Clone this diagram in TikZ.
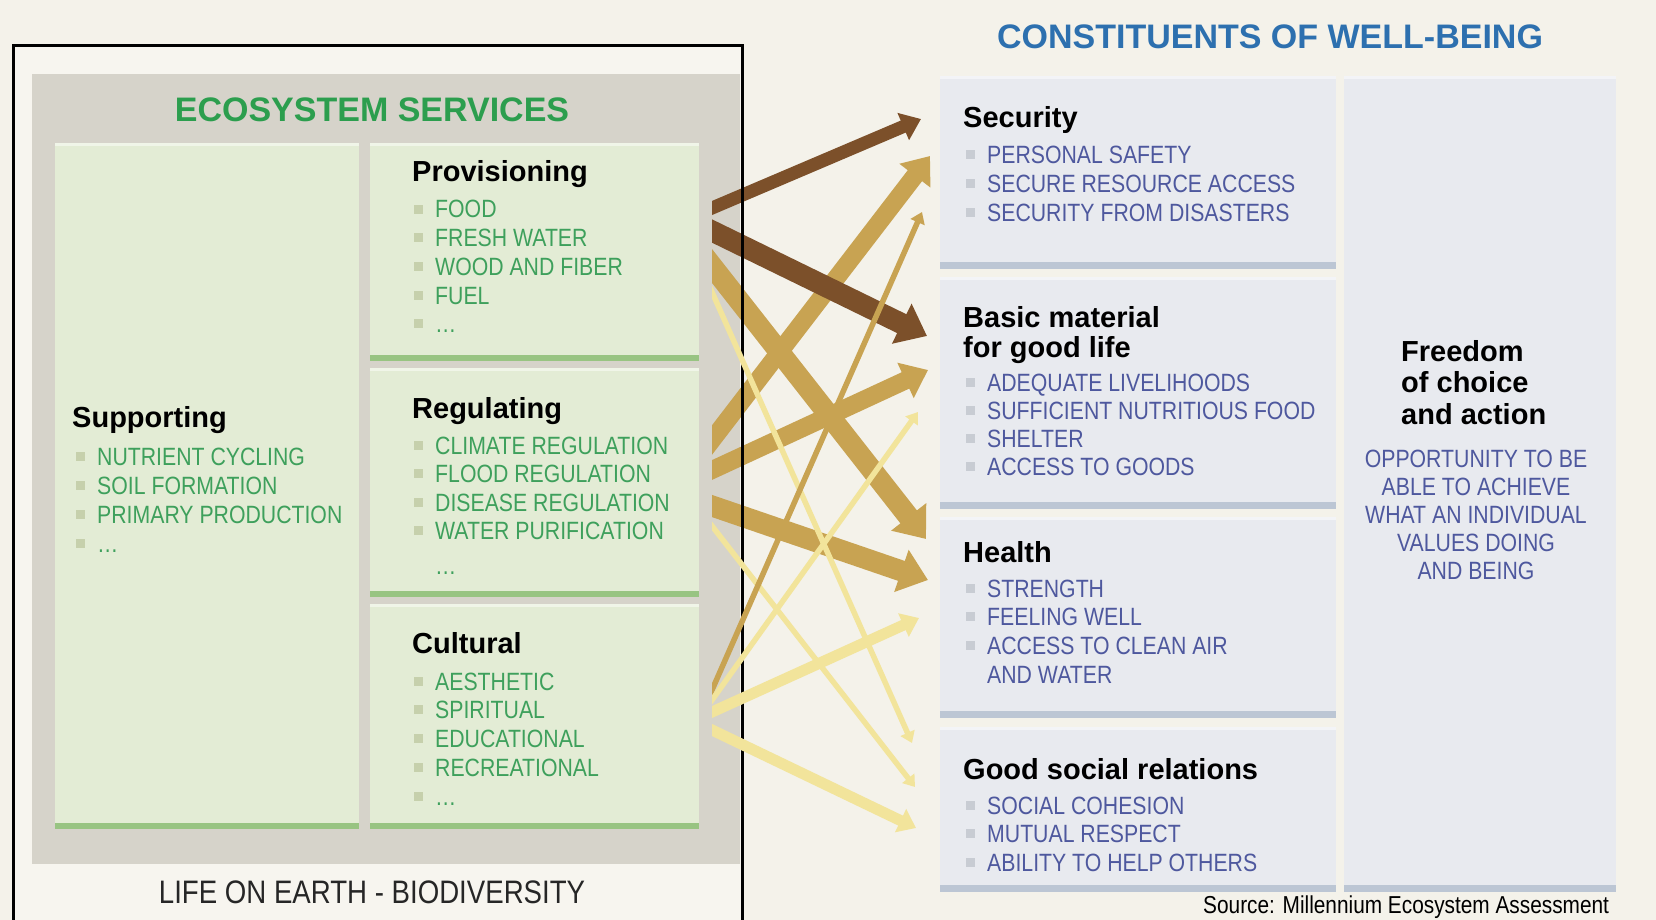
\documentclass[tikz,border=0pt]{standalone}
\usepackage{fontspec}
\setmainfont{Liberation Sans}
\newfontfamily\narrowfont{Liberation Sans}[FakeStretch=0.85]
\usetikzlibrary{arrows.meta, positioning}

\definecolor{paper}{RGB}{244,242,234}
\definecolor{paperlight}{RGB}{247,245,239}
\definecolor{panel}{RGB}{214,211,202}
\definecolor{svcfill}{RGB}{227,236,213}
\definecolor{svcedge}{RGB}{152,196,130}
\definecolor{svctop}{RGB}{240,245,232}
\definecolor{wbfill}{RGB}{232,234,239}
\definecolor{wbedge}{RGB}{188,198,212}
\definecolor{wbtop}{RGB}{243,244,247}
\definecolor{svcgreen}{RGB}{44,158,78}
\definecolor{itemgreen}{RGB}{62,160,92}
\definecolor{wbblue}{RGB}{45,112,175}
\definecolor{itemblue}{RGB}{78,88,158}
\definecolor{bulgreen}{RGB}{198,208,172}
\definecolor{bulgrey}{RGB}{200,204,211}
\definecolor{linkdark}{RGB}{124,80,42}
\definecolor{linktan}{RGB}{200,163,82}
\definecolor{linklight}{RGB}{242,228,155}

\newcommand\sqbul[1]{\textcolor{#1}{\rule[4.5pt]{9pt}{9pt}}\hspace{12pt}}

\begin{document}
\begin{tikzpicture}[x=1pt, y=-1pt,
  svcbox/.style={rectangle, anchor=north west, inner sep=0pt, fill=svcfill,
    path picture={
      \fill[svcedge] ([yshift=6pt]path picture bounding box.south west) rectangle (path picture bounding box.south east);
      \fill[svctop] (path picture bounding box.north west) rectangle ([yshift=-3pt]path picture bounding box.north east);}},
  wbbox/.style={rectangle, anchor=north west, inner sep=0pt, fill=wbfill,
    path picture={
      \fill[wbedge] ([yshift=7pt]path picture bounding box.south west) rectangle (path picture bounding box.south east);
      \fill[wbtop] (path picture bounding box.north west) rectangle ([yshift=-3pt]path picture bounding box.north east);}},
  sectitle/.style={inner sep=0pt, font=\bfseries\fontsize{34}{40}\selectfont},
  boxhead/.style={anchor=west, inner sep=0pt, font=\bfseries\fontsize{29}{34}\selectfont, text height=20.8pt, text depth=0pt},
  svcitem/.style={anchor=west, inner sep=0pt, font=\narrowfont\fontsize{25}{28}\selectfont, text height=18pt, text depth=0pt, text=itemgreen},
  wbitem/.style={svcitem, text=itemblue},
  link/.style={line width=#1, shorten <=-16pt, -{Triangle[length=5pt 1.1, width=5pt 1.8]}}
]
\clip (0,0) rectangle (1656,920);
\fill[paper] (0,0) rectangle (1656,920);

% ecosystem services
\fill[paperlight] (13,46) rectangle (742,935);
\fill[panel] (32,74) rectangle (740,864);
\node[sectitle, text=svcgreen] (es) at (372,110) {ECOSYSTEM SERVICES};

\node[svcbox, minimum width=304pt, minimum height=686pt] (supp) at (55,143) {};
\node[svcbox, minimum width=329pt, minimum height=218pt] (prov) at (370,143) {};
\node[svcbox, minimum width=329pt, minimum height=229pt] (regu) at (370,368) {};
\node[svcbox, minimum width=329pt, minimum height=225pt] (cult) at (370,604) {};

\node[boxhead] (supp-head) at (72,417) {Supporting};
\foreach \t [count=\i from 0] in {NUTRIENT CYCLING, SOIL FORMATION, PRIMARY PRODUCTION, \dots}
  \node[svcitem] (supp-\i) at (76,456+29.2*\i) {\sqbul{bulgreen}\t};

\node[boxhead] (prov-head) at (412,171) {Provisioning};
\foreach \t [count=\i from 0] in {FOOD, FRESH WATER, WOOD AND FIBER, FUEL, \dots}
  \node[svcitem] (prov-\i) at (414,209+28.7*\i) {\sqbul{bulgreen}\t};

\node[boxhead] (regu-head) at (412,408) {Regulating};
\foreach \t [count=\i from 0] in {CLIMATE REGULATION, FLOOD REGULATION, DISEASE REGULATION, WATER PURIFICATION}
  \node[svcitem] (regu-\i) at (414,445+28.5*\i) {\sqbul{bulgreen}\t};
\node[svcitem] (regu-more) at (435,565) {\dots};

\node[boxhead] (cult-head) at (412,643) {Cultural};
\foreach \t [count=\i from 0] in {AESTHETIC, SPIRITUAL, EDUCATIONAL, RECREATIONAL, \dots}
  \node[svcitem] (cult-\i) at (414,681+28.8*\i) {\sqbul{bulgreen}\t};

\node[font=\narrowfont\fontsize{32.5}{36}\selectfont, text={black!85}, inner sep=0pt] (life) at (372,892) {LIFE ON EARTH - BIODIVERSITY};

% constituents of well-being
\node[sectitle, text=wbblue] (wb) at (1270,37) {CONSTITUENTS OF WELL-BEING};

\node[wbbox, minimum width=396pt, minimum height=193pt] (sec) at (940,76) {};
\node[wbbox, minimum width=396pt, minimum height=232pt] (basic) at (940,277) {};
\node[wbbox, minimum width=396pt, minimum height=201pt] (health) at (940,517) {};
\node[wbbox, minimum width=396pt, minimum height=165pt] (social) at (940,727) {};
\node[wbbox, minimum width=272pt, minimum height=816pt] (free) at (1344,76) {};

\node[boxhead] (sec-head) at (963,117) {Security};
\foreach \t [count=\i from 0] in {PERSONAL SAFETY, SECURE RESOURCE ACCESS, SECURITY FROM DISASTERS}
  \node[wbitem] (sec-\i) at (966,155+28.5*\i) {\sqbul{bulgrey}\t};

\node[boxhead] (basic-head) at (963,317) {Basic material};
\node[boxhead, below=9.2pt of basic-head.south west, anchor=north west] (basic-head2) {for good life};
\foreach \t [count=\i from 0] in {ADEQUATE LIVELIHOODS, SUFFICIENT NUTRITIOUS FOOD, SHELTER, ACCESS TO GOODS}
  \node[wbitem] (basic-\i) at (966,382+28*\i) {\sqbul{bulgrey}\t};

\node[boxhead] (health-head) at (963,552) {Health};
\foreach \t [count=\i from 0] in {STRENGTH, FEELING WELL, ACCESS TO CLEAN AIR}
  \node[wbitem] (health-\i) at (966,588+28.6*\i) {\sqbul{bulgrey}\t};
\node[wbitem] (health-more) at (987,674) {AND WATER};

\node[boxhead] (social-head) at (963,769) {Good social relations};
\foreach \t [count=\i from 0] in {SOCIAL COHESION, MUTUAL RESPECT, ABILITY TO HELP OTHERS}
  \node[wbitem] (social-\i) at (966,805+28.5*\i) {\sqbul{bulgrey}\t};

\foreach \t [count=\i from 0] in {Freedom, of choice, and action}
  \node[boxhead] (free-head\i) at (1401,351+31.5*\i) {\t};
\foreach \t [count=\i from 0] in {OPPORTUNITY TO BE, ABLE TO ACHIEVE, WHAT AN INDIVIDUAL, VALUES DOING, AND BEING}
  \node[wbitem, anchor=center] (free-\i) at (1476,458+28*\i) {\t};

\node[font=\narrowfont\fontsize{24.5}{30}\selectfont, anchor=base west, inner sep=0pt] (source) at (1203,913) {Source: Millennium Ecosystem Assessment};

% link end points
\coordinate (prov-sec) at (712,208);    \coordinate (sec-prov) at (921,119);
\coordinate (prov-basic) at (712,231);  \coordinate (basic-prov) at (927,336);
\coordinate (prov-health) at (712,266); \coordinate (health-prov) at (926,539);
\coordinate (prov-social) at (712,292); \coordinate (social-prov) at (912,743);
\coordinate (regu-sec) at (712,440);    \coordinate (sec-regu) at (930,156);
\coordinate (regu-basic) at (712,470);  \coordinate (basic-regu) at (928,370);
\coordinate (regu-health) at (712,506); \coordinate (health-regu) at (928,580);
\coordinate (regu-social) at (712,526); \coordinate (social-regu) at (915,787);
\coordinate (cult-sec) at (712,690);    \coordinate (sec-cult) at (922,212);
\coordinate (cult-basic) at (712,700);  \coordinate (basic-cult) at (918,412);
\coordinate (cult-health) at (712,712); \coordinate (health-cult) at (919,618);
\coordinate (cult-social) at (712,730); \coordinate (social-cult) at (916,828);

% strong links
\begin{scope}
  \clip (712,0) rectangle (1656,920);
  \draw[link=21pt, linktan] (prov-health) -- (health-prov);
  \draw[link=18pt, linktan] (regu-sec) -- (sec-regu);
  \draw[link=18pt, linktan] (regu-basic) -- (basic-regu);
  \draw[link=21pt, linktan] (regu-health) -- (health-regu);
  \draw[link=13pt, linkdark] (prov-sec) -- (sec-prov);
  \draw[link=21pt, linkdark] (prov-basic) -- (basic-prov);
\end{scope}

\draw[line width=3pt] (13,935) -- (13,46) -- (742,46) -- (742,935);

% weak links
\begin{scope}
  \clip (712,0) rectangle (1656,920);
  \draw[link=5.5pt, linklight] (prov-social) -- (social-prov);
  \draw[link=5.5pt, linklight] (regu-social) -- (social-regu);
  \draw[link=5.5pt, linktan] (cult-sec) -- (sec-cult);
  \draw[link=5.5pt, linklight] (cult-basic) -- (basic-cult);
  \draw[link=11pt, linklight] (cult-health) -- (health-cult);
  \draw[link=11pt, linklight] (cult-social) -- (social-cult);
\end{scope}
\end{tikzpicture}
\end{document}
